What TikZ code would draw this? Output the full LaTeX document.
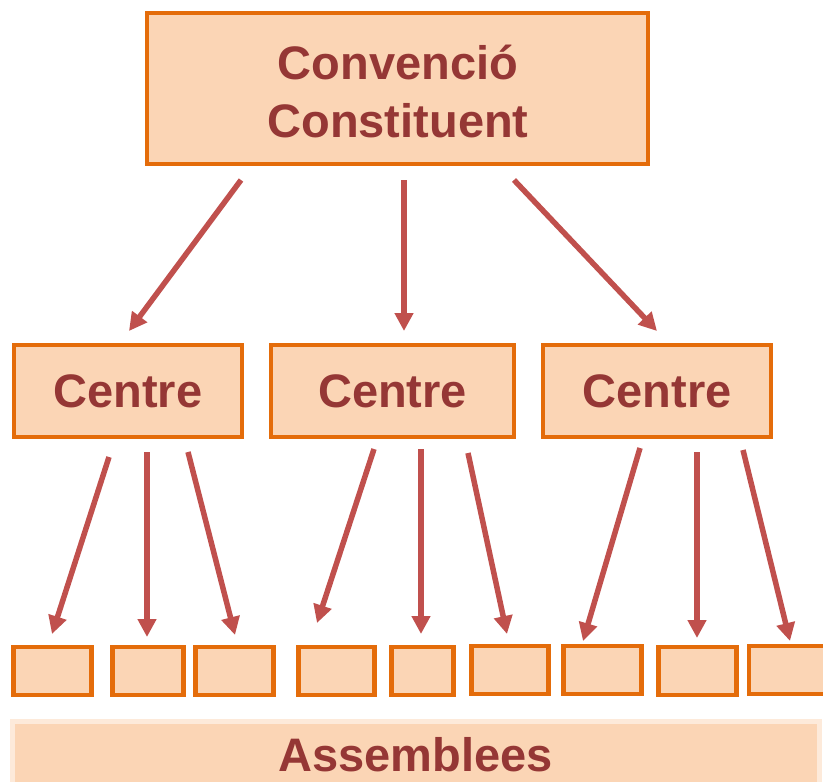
\documentclass[tikz,border=0pt]{standalone}
\usepackage{fontspec}
\setmainfont{Liberation Sans}
\usetikzlibrary{arrows.meta}
\definecolor{boxfill}{HTML}{FBD5B5}
\definecolor{boxline}{HTML}{E46C0A}
\definecolor{txtc}{HTML}{953735}
\definecolor{arrc}{HTML}{C0504D}
\definecolor{barline}{HTML}{FDEADA}
\begin{document}
\begin{tikzpicture}[x=1pt,y=-1pt,
  bx/.style={draw=boxline,fill=boxfill,line width=4.5pt,inner sep=0pt,text=txtc,
    font=\fontsize{47}{58}\selectfont\bfseries,align=center},
  small/.style={bx,minimum height=48pt},
  conn/.style={draw=arrc,line width=5.5pt,-{Triangle[length=18pt,width=18pt]}}]
\useasboundingbox (0,0) rectangle (823,782);

% top box
\node[bx,minimum width=501pt,minimum height=151pt] (top) at (397.5,88.5) {};
\node[text=txtc,font=\fontsize{47}{58}\selectfont\bfseries,align=center,inner sep=0pt] (toptxt) at (398,91) {Convenció\\Constituent};

% centre boxes
\node[bx,minimum width=228pt,minimum height=92pt] (c1) at (128,391) {Centre};
\node[bx,minimum width=243pt,minimum height=92pt] (c2) at (392.5,391) {Centre};
\node[bx,minimum width=228pt,minimum height=92pt] (c3) at (657,391) {Centre};

% small boxes
\node[small,minimum width=78pt] (b1) at (52.5,671) {};
\node[small,minimum width=71pt] (b2) at (148,671) {};
\node[small,minimum width=78pt] (b3) at (234.5,671) {};
\node[small,minimum width=76pt] (b4) at (336.5,671) {};
\node[small,minimum width=62pt] (b5) at (422.5,671) {};
\node[small,minimum width=77pt] (b6) at (510,670) {};
\node[small,minimum width=78pt] (b7) at (602.5,670) {};
\node[small,minimum width=78pt] (b8) at (697.5,671) {};
\node[small,minimum width=78pt] (b9) at (788,670) {};

% assemblees bar
\node[fill=boxfill,draw=barline,line width=5pt,minimum width=807pt,minimum height=68pt,
  inner sep=0pt,text=txtc,font=\fontsize{47}{58}\selectfont\bfseries] (asm) at (415.5,755) {Assemblees};

% arrow end points
\coordinate (t1) at (241,180);  \coordinate (e1) at (129,331);
\coordinate (t2) at (404,180);  \coordinate (e2) at (404,331);
\coordinate (t3) at (514,180);  \coordinate (e3) at (657,331);

\coordinate (s11) at (109,457); \coordinate (f11) at (52,634);
\coordinate (s12) at (147,452); \coordinate (f12) at (147,637);
\coordinate (s13) at (188,452); \coordinate (f13) at (235,635);

\coordinate (s21) at (374,449); \coordinate (f21) at (317,623);
\coordinate (s22) at (421,449); \coordinate (f22) at (421,634);
\coordinate (s23) at (468,453); \coordinate (f23) at (507,634);

\coordinate (s31) at (640,448); \coordinate (f31) at (583,641);
\coordinate (s32) at (697,452); \coordinate (f32) at (697,638);
\coordinate (s33) at (743,450); \coordinate (f33) at (790,641);

\foreach \a/\b in {t1/e1,t2/e2,t3/e3,s11/f11,s12/f12,s13/f13,s21/f21,s22/f22,s23/f23,s31/f31,s32/f32,s33/f33}
  \draw[conn] (\a) -- (\b);
\end{tikzpicture}
\end{document}
